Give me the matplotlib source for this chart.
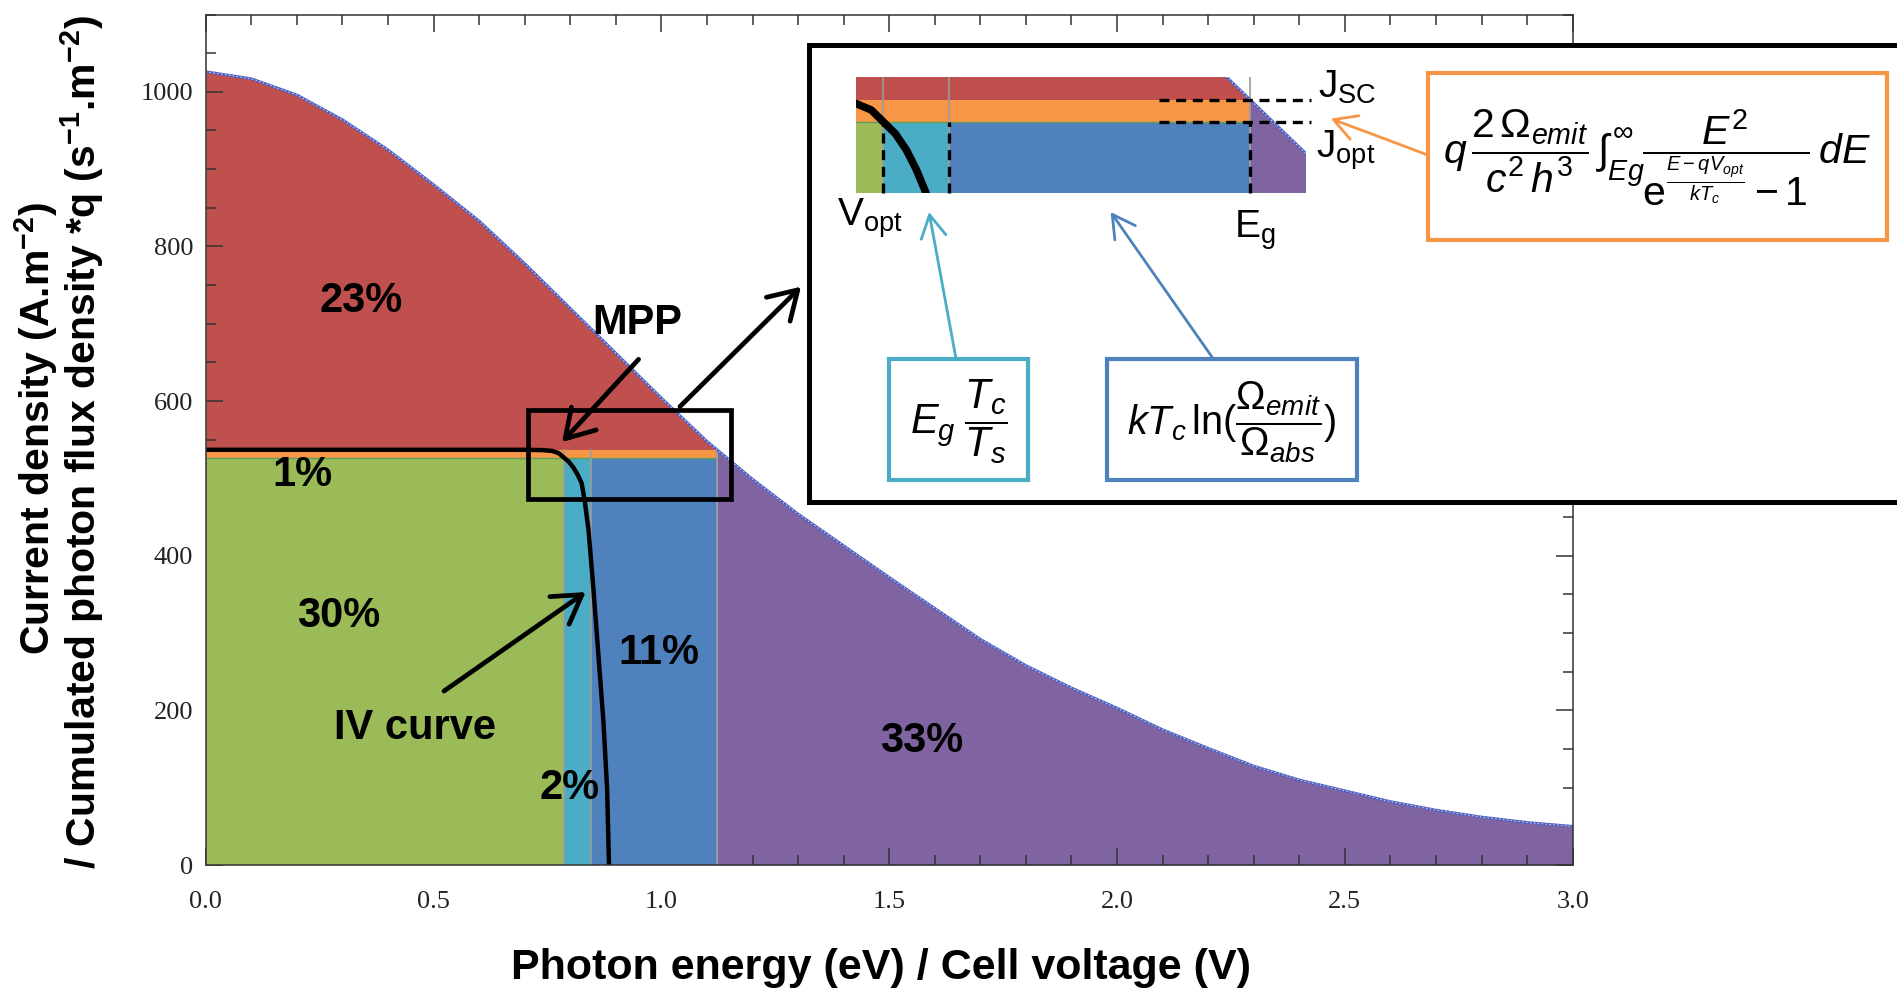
import numpy as np
import matplotlib
matplotlib.use("Agg")
import matplotlib.pyplot as plt
from matplotlib import font_manager as fm
from matplotlib.patches import Rectangle, FancyArrowPatch
from matplotlib.ticker import MultipleLocator, FormatStrFormatter

# ---------------------------------------------------------------- data
# photon energy (eV) and cumulated photon flux density * q (A.m-2)
energy = [0.0, 0.1, 0.2, 0.3, 0.4, 0.5, 0.6, 0.7, 0.8, 0.9, 1.0,
          1.1, 1.2, 1.3, 1.4, 1.5, 1.6, 1.7, 1.8, 1.9, 2.0,
          2.1, 2.2, 2.3, 2.4, 2.5, 2.6, 2.7, 2.8, 2.9, 3.0]
flux = [1026, 1017, 996, 964, 925, 880, 833, 778, 720, 662, 604,
        548, 499, 454, 413, 372, 332, 292, 258, 229, 203,
        175, 151, 128, 110, 96, 82, 71, 62, 55, 50]

# IV curve of the cell: voltage (V) / current density (A.m-2)
iv_voltage = [0.0, 0.70, 0.74, 0.761, 0.775, 0.786, 0.797, 0.807, 0.816,
              0.825, 0.832, 0.840, 0.851, 0.862, 0.873, 0.881, 0.885]
iv_current = [537, 537, 536.6, 535.5, 532.5, 527, 521.5, 514, 505,
              494, 470, 434, 356, 270, 184, 97, 0]

J_sc = 537.0      # short-circuit current density
J_opt = 527.0     # current density at the maximum power point
V_opt = 0.786     # voltage at the maximum power point
V_th = 0.846      # V_opt + Eg*Tc/Ts
E_gap = 1.122     # band gap

# energy share of each loss / output region
share_labels = ["23%", "1%", "30%", "2%", "11%", "33%"]
share_x = [0.341, 0.212, 0.291, 0.799, 0.995, 1.572]
share_y = [729, 505, 322, 100, 274, 160]

RED, ORANGE, GREEN = "#C0504D", "#F79646", "#9BBB59"
CYAN, BLUE, PURPLE = "#4BACC6", "#4F81BD", "#8064A2"

# ---------------------------------------------------------------- fonts
available = {f.name for f in fm.fontManager.ttflist}
SANS = "Liberation Sans"
if "Liberation Sans Narrow" in available:
    NARROW, XLAB_SIZE, YLAB_SIZE = "Liberation Sans Narrow", 37, 37
else:
    NARROW, XLAB_SIZE, YLAB_SIZE = SANS, 31, 29.5

plt.rcParams["font.family"] = ["Liberation Serif", "DejaVu Serif"]
plt.rcParams["mathtext.fontset"] = "custom"
plt.rcParams["mathtext.rm"] = SANS
plt.rcParams["mathtext.it"] = SANS + ":italic"
plt.rcParams["mathtext.bf"] = NARROW + ":bold"

E = np.array(energy, dtype=float)
F = np.array(flux, dtype=float)


def draw_regions(ax, iv_lw, sep_top):
    below = E < E_gap
    f_gap = np.interp(E_gap, E, F)
    e_lo = np.r_[E[below], E_gap]
    f_lo = np.r_[F[below], f_gap]
    e_hi = np.r_[E_gap, E[~below]]
    f_hi = np.r_[f_gap, F[~below]]
    ax.fill_between(e_lo, J_sc, f_lo, color=RED, lw=0, zorder=1)
    ax.fill_between(e_hi, 0, f_hi, color=PURPLE, lw=0, zorder=1)
    ax.fill_between([0, E_gap], J_opt, J_sc, color=ORANGE, lw=0, zorder=2)
    ax.fill_between([0, V_opt], 0, J_opt, color=GREEN, lw=0, zorder=2)
    ax.fill_between([V_opt, V_th], 0, J_opt, color=CYAN, lw=0, zorder=2)
    ax.fill_between([V_th, E_gap], 0, J_opt, color=BLUE, lw=0, zorder=2)
    ax.plot([0, E_gap], [J_opt, J_opt], color="#5E9E58", lw=1.0, zorder=3)
    for xv in (V_opt, V_th, E_gap):
        ax.plot([xv, xv], [0, sep_top], color="#9C9C9C", lw=1.2, zorder=3)
    ax.plot(E, F, color="#5262C0", lw=2.0, zorder=4)
    ax.plot(E, F, color="white", lw=0.7, ls=(0, (1.5, 2.5)), alpha=0.8, zorder=5)
    ax.plot(iv_voltage, iv_current, color="black", lw=iv_lw,
            solid_capstyle="butt", solid_joinstyle="round", zorder=6)


fig = plt.figure(figsize=(18.97, 9.90), dpi=100)

# ---------------------------------------------------------------- main axes
ax = fig.add_axes([0.10844, 0.12626, 0.72061, 0.85909])
draw_regions(ax, iv_lw=3.2, sep_top=J_sc)
ax.set_xlim(0, 3.0)
ax.set_ylim(0, 1100)
ax.xaxis.set_major_locator(MultipleLocator(0.5))
ax.xaxis.set_minor_locator(MultipleLocator(0.1))
ax.xaxis.set_major_formatter(FormatStrFormatter("%.1f"))
ax.yaxis.set_major_locator(MultipleLocator(200))
ax.yaxis.set_minor_locator(MultipleLocator(50))
ax.tick_params(which="both", direction="in", top=True, right=True,
               color="#333333", width=1.1, labelsize=19, labelcolor="#222222")
ax.tick_params(which="major", length=12)
ax.tick_params(which="minor", length=7)
ax.tick_params(axis="x", pad=19)
ax.tick_params(axis="y", pad=9)
for s in ax.spines.values():
    s.set_color("#333333")
    s.set_linewidth(1.1)
    s.set_zorder(7)

for lab, x, y in zip(share_labels, share_x, share_y):
    ax.text(x, y, lab, ha="center", va="center", fontsize=30,
            fontweight="bold", family=SANS, zorder=8)
ax.text(0.947, 701, "MPP", ha="center", va="center", fontsize=30,
        fontweight="bold", family=SANS, zorder=8)
ax.text(0.460, 177, "IV curve", ha="center", va="center", fontsize=30,
        fontweight="bold", family=SANS, zorder=8)

# maximum power point frame
ax.add_patch(Rectangle((0.7065, 474), 1.153 - 0.7065, 588 - 474, fill=False,
                       ec="black", lw=3.4, zorder=8))

black_arrow = dict(arrowstyle="->,head_length=0.9,head_width=0.55",
                   color="black", lw=3.4, mutation_scale=22,
                   shrinkA=0, shrinkB=0, zorder=9)
ax.add_patch(FancyArrowPatch((0.950, 654), (0.782, 547), **black_arrow))
ax.add_patch(FancyArrowPatch((0.523, 225), (0.834, 353), **black_arrow))

# axis titles
fig.text(880.7 / 1897, 1 - 968 / 990,
         "Photon energy (eV) / Cell voltage (V)", ha="center", va="center",
         fontsize=XLAB_SIZE, fontweight="bold", family=NARROW)
fig.text(36 / 1897, 1 - 428 / 990,
         r"Current density (A.m$^{\mathbf{-2}}$)", rotation=90,
         ha="center", va="center", fontsize=YLAB_SIZE, fontweight="bold",
         family=NARROW)
fig.text(82 / 1897, 1 - 442 / 990,
         r"/ Cumulated photon flux density *q (s$^{\mathbf{-1}}$.m$^{\mathbf{-2}}$)",
         rotation=90, ha="center", va="center", fontsize=YLAB_SIZE,
         fontweight="bold", family=NARROW)

# ---------------------------------------------------------------- overlay (pixel coordinates)
ov = fig.add_axes([0, 0, 1, 1])
ov.set_xlim(0, 1897)
ov.set_ylim(990, 0)
ov.axis("off")
ov.patch.set_alpha(0)

ov.add_patch(FancyArrowPatch((680, 406.5), (801, 286.7), **black_arrow))
ov.add_patch(Rectangle((809.4, 44.8), 1200, 457.2, fc="white", ec="black",
                       lw=3.6, zorder=2))

for (x0, y0, x1, y1, col) in [(889, 359, 1028, 480, CYAN),
                              (1107, 359, 1357, 480, BLUE),
                              (1427.6, 72.6, 1887, 239.5, ORANGE)]:
    ov.add_patch(Rectangle((x0, y0), x1 - x0, y1 - y0, fill=False, ec=col,
                           lw=3.0, zorder=3))


def col_arrow(p0, p1, col):
    ov.add_patch(FancyArrowPatch(p0, p1,
                                 arrowstyle="->,head_length=0.9,head_width=0.5",
                                 color=col, lw=2.0, mutation_scale=18,
                                 shrinkA=0, shrinkB=0, zorder=4))


col_arrow((955.7, 357), (929, 212), CYAN)
col_arrow((1212, 357), (1110.6, 212), BLUE)
col_arrow((1427.6, 154.9), (1330.8, 118.6), ORANGE)

ov.text(958.5, 422, r"$E_g\;\dfrac{T_c}{T_s}$", ha="center", va="center",
        fontsize=30, zorder=5)
ov.text(1232, 422, r"$kT_c\,\mathrm{ln}(\dfrac{\Omega_{emit}}{\Omega_{abs}})$",
        ha="center", va="center", fontsize=28.5, zorder=5)
ov.text(1657, 158,
        r"$q\,\dfrac{2\,\Omega_{emit}}{c^2\,h^3}\,\int_{Eg}^{\infty}"
        r"\dfrac{E^2}{\mathrm{e}^{\frac{E-qV_{opt}}{kT_c}}-1}\,dE$",
        ha="center", va="center", fontsize=29.5, zorder=5)

ov.text(1318, 87, r"J$_{\mathrm{SC}}$", ha="left", va="center",
        fontsize=28, family=SANS, zorder=5)
ov.text(1316, 150, r"J$_{\mathrm{opt}}$", ha="left", va="center",
        fontsize=28, family=SANS, zorder=5)
ov.text(837, 218, r"V$_{\mathrm{opt}}$", ha="left", va="center",
        fontsize=28, family=SANS, zorder=5)
ov.text(1234, 230, r"E$_{\mathrm{g}}$", ha="left", va="center",
        fontsize=28, family=SANS, zorder=5)

# ---------------------------------------------------------------- magnified view of the MPP
ins = fig.add_axes([856 / 1897, 1 - 192.7 / 990, 450 / 1897, 116 / 990])
draw_regions(ins, iv_lw=5.5, sep_top=600)
ins.set_xlim(0.761, 1.173)
ins.set_ylim(494, 548)
ins.axis("off")
dash = dict(color="black", lw=2.4, ls=(0, (3, 2)), zorder=8, clip_on=False)
for xv in (V_opt, V_th, E_gap):
    ins.plot([xv, xv], [494, J_opt], **dash)
for yv in (J_sc, J_opt):
    ins.plot([1.038, 1.178], [yv, yv], **dash)

fig.savefig("out.png", dpi=100)
